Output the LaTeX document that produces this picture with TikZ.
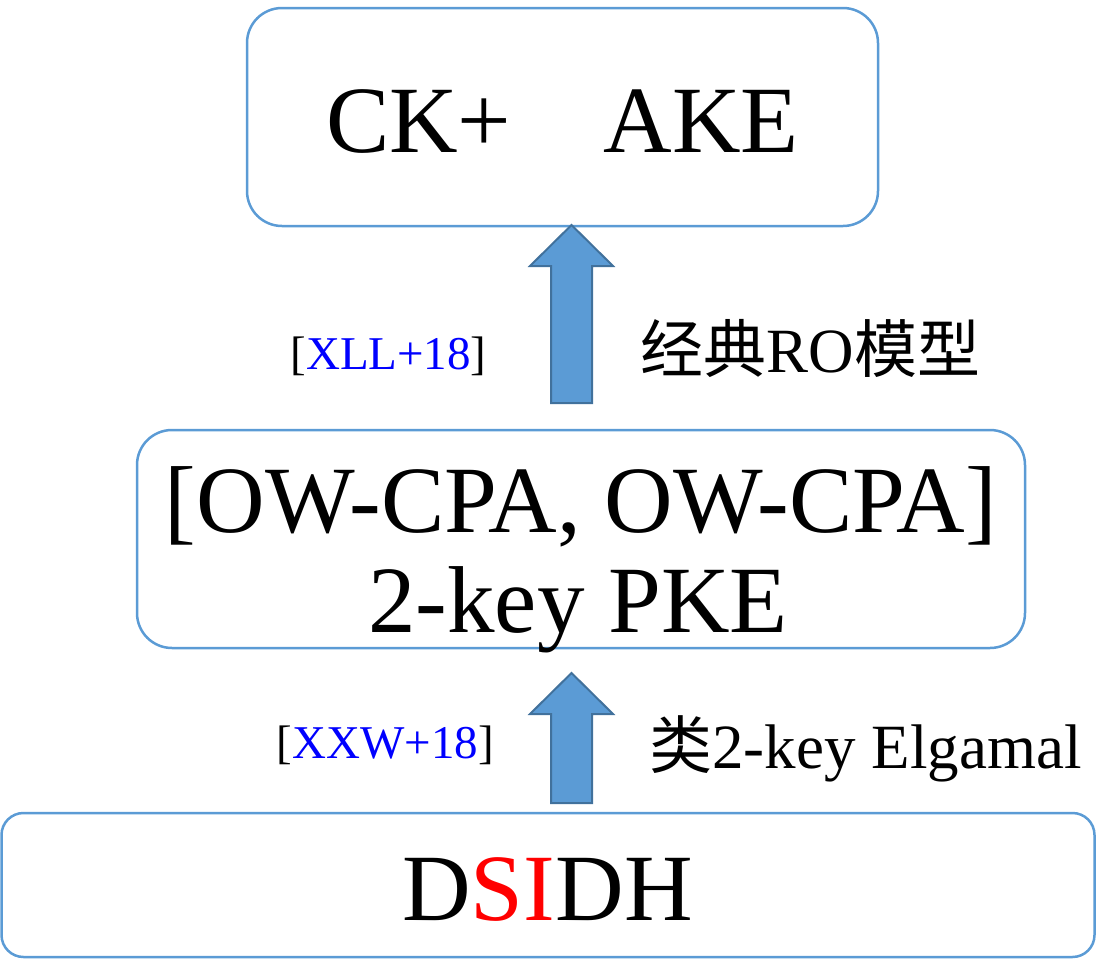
\documentclass[tikz,border=0pt]{standalone}
\usepackage{fontspec}
\setmainfont{Liberation Serif}
\newfontfamily\cjk{Noto Sans CJK SC}
\definecolor{boxblue}{HTML}{5B9BD5}
\definecolor{arrowedge}{HTML}{41719C}
\begin{document}
\begin{tikzpicture}[x=1pt,y=-1pt,
  stage/.style={draw=boxblue, line width=2.5pt, rounded corners=35pt, inner sep=0pt},
  bigtext/.style={inner sep=0pt, anchor=base, font=\fontsize{95}{100}\selectfont},
  cite/.style={inner sep=0pt, anchor=base, font=\fontsize{47}{50}\selectfont},
  note/.style={inner sep=0pt, anchor=base, font=\fontsize{63}{66}\selectfont},
  blockarrow/.style={fill=boxblue, draw=arrowedge, line width=2pt, line join=miter},
  uparrow/.pic={\path[blockarrow] (0,0) -- (41.5,41) -- (20.5,41) -- (20.5,#1)
      -- (-20.5,#1) -- (-20.5,41) -- (-41.5,41) -- cycle;}
]
\useasboundingbox (0,0) rectangle (1096,959);

% the three stages
\node[stage, minimum width=631pt, minimum height=218pt] (ake) at (562.5,117) {};
\node[stage, minimum width=888pt, minimum height=218pt] (pke) at (581,539) {};
\node[stage, rounded corners=22pt, minimum width=1093pt, minimum height=144pt] (dsidh) at (548,885) {};

% stage texts
\node[bigtext] (aketext) at (562.5,152) {CK+\hspace{0.97em}AKE};
\node[bigtext] (pketop) at (581,532) {[OW-CPA, OW-CPA]};
\node[bigtext] (pkebottom) at (578,632) {2-key PKE};
\node[bigtext] (dsidhtext) at (547.5,920) {D\textcolor{red}{SI}DH};

% block arrows between the stages
\coordinate (tipA) at (571.5,225);
\coordinate (tipB) at (571.5,673);
\pic at (tipA) {uparrow=178};
\pic at (tipB) {uparrow=130};

% arrow annotations
\node[cite] (xll) at (388.5,369) {[\textcolor{blue}{XLL+18}]};
\node[note] (ro) at (810.5,372) {{\cjk 经典}RO{\cjk 模型}};
\node[cite] (xxw) at (385.5,758) {[\textcolor{blue}{XXW+18}]};
\node[note] (elg) at (865.5,768) {{\cjk 类}2-key Elgamal};
\end{tikzpicture}
\end{document}
